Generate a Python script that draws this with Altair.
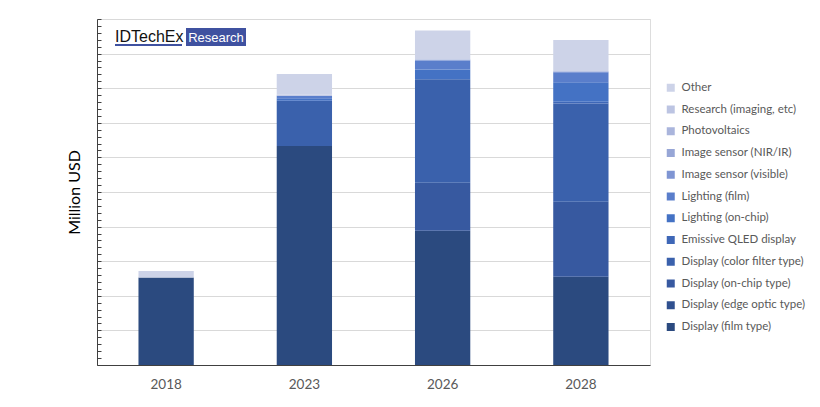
import altair as alt
import pandas as pd

years = ["2018", "2023", "2026", "2028"]

# stacking order: bottom to top
categories = [
    "Display (film type)",
    "Display (edge optic type)",
    "Display (on-chip type)",
    "Display (color filter type)",
    "Emissive QLED display",
    "Lighting (on-chip)",
    "Lighting (film)",
    "Image sensor (visible)",
    "Image sensor (NIR/IR)",
    "Photovoltaics",
    "Research (imaging, etc)",
    "Other",
]

colors = [
    "#2b4a7f", "#30508f", "#3759a0", "#3a61ac", "#3e67b7", "#4472c4",
    "#5a7ecb", "#7f95d3", "#97a6d6", "#aab5dc", "#bcc4e2", "#cdd3e8",
]

film = [253, 633, 388, 255]
edge_optic = [0, 0, 0, 0]
on_chip = [0, 0, 139, 217]
color_filter = [0, 131, 299, 284]
qled = [0, 0, 0, 5]
lighting_chip = [0, 7, 28, 56]
lighting_film = [0, 7, 26, 29]
sensor_vis = [0, 0, 3, 2]
sensor_nir = [0, 0, 0, 1]
pv = [0, 0, 0, 0]
research = [0, 3, 0, 0]
other = [19, 60, 84, 90]

series = [film, edge_optic, on_chip, color_filter, qled, lighting_chip,
          lighting_film, sensor_vis, sensor_nir, pv, research, other]

rows = []
for i, (cat, vals) in enumerate(zip(categories, series)):
    for y, v in zip(years, vals):
        if v > 0:
            rows.append({"year": y, "segment": cat, "value": v, "idx": i})
df = pd.DataFrame(rows)

FONT = "Lato"

bars = alt.Chart(df).mark_bar().encode(
    x=alt.X("year:N", sort=years,
            scale=alt.Scale(paddingInner=0.6, paddingOuter=0.3),
            axis=alt.Axis(title=None, labelAngle=0, ticks=False,
                          labelFontSize=13.5, labelColor="#595959",
                          labelFont=FONT, labelPadding=12,
                          domainColor="#404040", grid=False)),
    y=alt.Y("value:Q", stack="zero",
            scale=alt.Scale(domain=[0, 1000], nice=False),
            axis=alt.Axis(title="Million USD", titleFontSize=16,
                          titleFont=FONT, titleFontWeight="normal",
                          titleColor="#000000", titlePadding=14,
                          labels=False,
                          values=list(range(0, 1001, 20)),
                          tickSize=alt.ExprRef(expr="-4"),
                          tickColor="#404040", domainColor="#404040",
                          grid=True,
                          gridColor={"condition": {"test": "datum.value % 100 === 0",
                                                   "value": "#d9d9d9"},
                                     "value": "rgba(0,0,0,0)"})),
    color=alt.Color("segment:N",
                    scale=alt.Scale(domain=categories[::-1], range=colors[::-1]),
                    legend=alt.Legend(title=None, orient="none",
                                      legendX=568, legendY=63,
                                      symbolType="square", symbolSize=64,
                                      symbolStrokeWidth=0,
                                      labelFont=FONT, labelFontSize=11.5,
                                      labelColor="#595959", rowPadding=8.75,
                                      labelOffset=5, padding=0)),
    order=alt.Order("idx:Q", sort="ascending"),
)

logo_df = pd.DataFrame({"t": ["IDTechEx"]})
logo_text = alt.Chart(logo_df).mark_text(
    font="Liberation Sans", fontSize=16, fontWeight=500, align="left",
    baseline="alphabetic", color="#111111"
).encode(text="t:N", x=alt.value(18), y=alt.value(23))

logo_line = alt.Chart(logo_df).mark_rule(color="#3f51a0", strokeWidth=2).encode(
    x=alt.value(18), x2=alt.value(85), y=alt.value(26))

box = alt.Chart(logo_df).mark_rect(color="#3f51a0").encode(
    x=alt.value(89), x2=alt.value(149), y=alt.value(9), y2=alt.value(27))

box_df = pd.DataFrame({"t": ["Research"]})
box_text = alt.Chart(box_df).mark_text(
    font="Liberation Sans", fontSize=13, align="center",
    baseline="alphabetic", color="#ffffff"
).encode(text="t:N", x=alt.value(119), y=alt.value(23))

chart = alt.layer(bars, logo_text, logo_line, box, box_text).properties(
    width=553, height=346,
    autosize=alt.AutoSizeParams(type="none"),
    padding={"left": 89, "top": 11, "right": 160, "bottom": 30},
).configure_view(stroke="#595959", strokeWidth=1).configure(background="white")

chart.save("out.html", embed_options={"renderer": "svg", "actions": False})
